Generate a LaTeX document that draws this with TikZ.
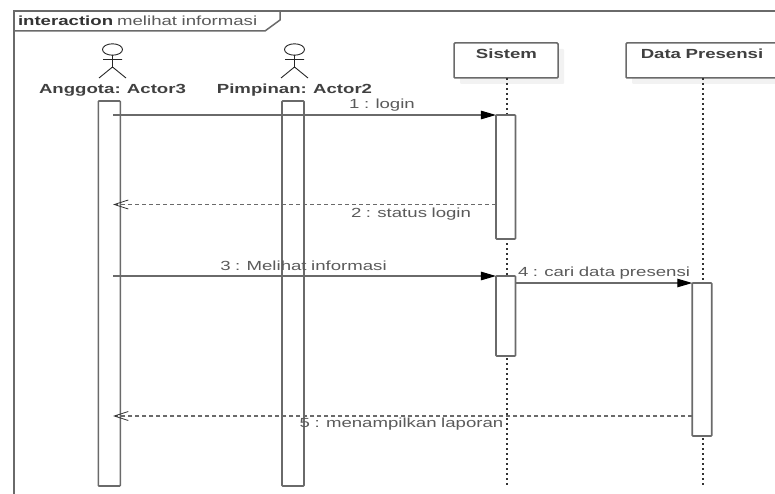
\documentclass[tikz,border=0pt]{standalone}
\usepackage{fontspec}
\setmainfont{Liberation Sans}[FakeStretch=1.41,WordSpace=0.88]
\usetikzlibrary{arrows.meta,shadows}
\definecolor{ln}{HTML}{6A6A6A}
\definecolor{tx}{HTML}{5A5A5A}
\tikzset{
  txt/.style={inner sep=0pt,outer sep=0pt,text=tx,font=\fontsize{13.2}{14}\selectfont},
  btxt/.style={inner sep=0pt,outer sep=0pt,text=#1,font=\fontsize{13.2}{14}\selectfont\bfseries},
  btxt/.default=tx,
  bar/.style={draw=ln,line width=1.6pt,fill=white,rounded corners=0.8pt,inner sep=0pt,outer sep=0pt},
  lifebox/.style={draw=ln,line width=1.5pt,fill=white,rounded corners=1pt,inner sep=0pt,outer sep=0pt,
    general shadow={fill=black!5,shadow xshift=6pt,shadow yshift=-6pt}},
  lifeline/.style={draw=black!80,line width=1.1pt,dash pattern=on 2pt off 3pt},
  call/.style={draw=ln,line width=1.05pt,-{Triangle[length=15pt,width=8.5pt,fill=black,color=black]}},
  reply/.style={draw=ln,line width=1.2pt,dash pattern=on 4pt off 3pt,-{Straight Barb[length=14pt,width=9pt,color=black!80,line width=.8pt]}},
  stick/.style={draw=black!85,line width=.9pt},
}
\newcommand{\stickman}[2]{%
  \begin{scope}[shift={(#1,0)}]
    \draw[stick] (0,49.5) ellipse (10 and 5.7);
    \draw[stick] (0,55) -- (0,67) (-9.5,59.5) -- (9.5,59.5) (-13.5,78) -- (0,67) -- (13.5,78);
  \end{scope}}
\begin{document}
\begin{tikzpicture}[x=1pt,y=-1pt]
\useasboundingbox (0,0) rectangle (775,494);
\clip (0,0) rectangle (775,494);
% frame
\draw[ln,line width=1.5pt] (14,494) -- (14,11) -- (775,11);
\draw[ln,line width=1.5pt] (14,31) -- (265,31) -- (280,20) -- (280,11);
\node[btxt=black!80,anchor=west] (title) at (18,20.5) {interaction\hspace{4pt}\textnormal{\color{tx}melihat informasi}};
% actors
\stickman{112.5}{a}
\stickman{294.5}{b}
\node[btxt=black!75] (actA) at (112.5,90) {Anggota: Actor3};
\node[btxt=black!75] (actB) at (294.5,90) {Pimpinan: Actor2};
% lifelines heads
\node[lifebox,minimum width=104pt,minimum height=35pt] (sis) at (506,60.5) {};
\node[lifebox,minimum width=160pt,minimum height=35pt] (dat) at (706,60.5) {};
\node[btxt=black!75] (sisT) at (506.5,54) {Sistem};
\node[btxt=black!75] (datT) at (702,54) {Data Presensi};
\coordinate (sisEnd) at (507,486);
\coordinate (datEnd) at (703,486);
\coordinate (sisTop) at (507,78);
\coordinate (datTop) at (703,78);
\draw[lifeline] (sisTop) -- (sisEnd);
\draw[lifeline] (datTop) -- (datEnd);
% activation bars
\node[bar,minimum width=22pt,minimum height=385pt] (barA) at (109.3,293.5) {};
\node[bar,minimum width=22pt,minimum height=385pt] (barB) at (293,293.5) {};
\node[bar,minimum width=19.5pt,minimum height=124pt] (barS1) at (505.7,177) {};
\node[bar,minimum width=19.5pt,minimum height=80pt] (barS2) at (505.7,316) {};
\node[bar,minimum width=19.5pt,minimum height=153pt] (barD) at (702,359.5) {};
% messages
\coordinate (m1) at (113,115);
\coordinate (m2) at (113,204.5);
\coordinate (m3) at (113,276);
\coordinate (m5) at (113,416);
\draw[call] (m1) -- (barS1.north west);
\draw[reply] (barS1.west |- m2) -- (m2);
\draw[call] (m3) -- (barS2.north west);
\draw[call] (barS2.east |- barD.north) -- (barD.north west);
\draw[reply] (barD.west |- m5) -- (m5);
% labels
\node[txt] (l1) at (382,105) {1 : login};
\node[txt] (l2) at (411,214) {2 : status login};
\node[txt] (l3) at (303.5,265.5) {3 : Melihat informasi};
\node[txt] (l4) at (604,273) {4 : cari data presensi};
\node[txt] (l5) at (401.5,424.5) {5 : menampilkan laporan};
\end{tikzpicture}
\end{document}
